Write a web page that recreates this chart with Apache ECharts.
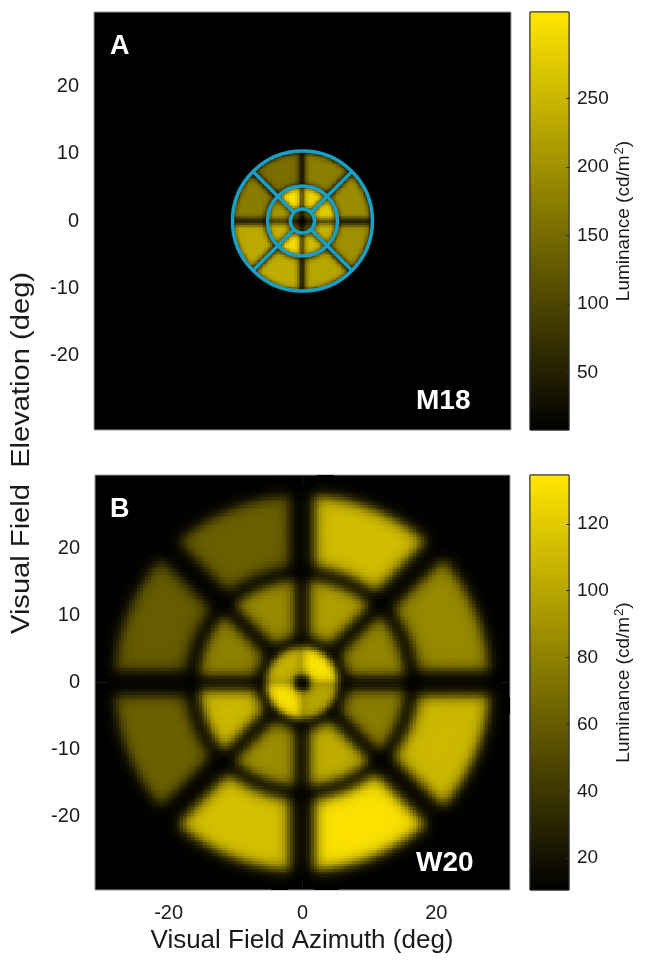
<!DOCTYPE html>
<html><head><meta charset="utf-8">
<script src="https://cdn.jsdelivr.net/npm/echarts@6/dist/echarts.min.js"></script>
<style>html,body{margin:0;padding:0;background:#fff}#c{width:651px;height:962px}</style>
</head><body><div id="c"></div>
<script>
// ---------------- data ----------------
const elevationTicks = [-20, -10, 0, 10, 20];
const azimuthTicks = [-20, 0, 20];
const colorbarTicksA = [50, 100, 150, 200, 250];
const colorbarTicksB = [20, 40, 60, 80, 100, 120];
const lumRangeA = [8, 313];
const lumRangeB = [10.5, 134.5];
// sector luminances (cd/m2); sectors run counter-clockwise starting at +azimuth
const lumA_center = [135, 128, 135, 128];
const lumA_middle = [283, 297, 313, 209, 247, 305, 262, 247];
const lumA_outer  = [195, 175, 154, 173, 233, 238, 228, 199];
const lumB_center = [133, 106, 132, 100];
const lumB_middle = [82, 96, 85, 80, 110, 87, 104, 78];
const lumB_outer  = [84, 112, 62, 60, 63, 114, 132, 110];
const panelLabels = ['A', 'B'];
const subjectLabels = ['M18', 'W20'];
const outlineRadiiA = [1.8, 5.2, 10.4];
const outlineSpokesA = [45, 135, 225, 315];

// ---------------- geometry / style ----------------
const FIELD = 31;
const geomA = {rings: [[0.55, 1.6], [2.05, 4.95], [5.55, 10.1]], gaps: [0.3, 0.3, 0.45], blur: [0.2, 0.22, 0.22], step: 0.25};
const geomB = {rings: [[1.2, 5.3], [7.0, 15.25], [17.55, 27.95]], gaps: [0.12, 1.2, 1.95], blur: [0.35, 0.5, 0.55], step: 0.4};
const colormap = ['#000000', '#FFE600'];
const blue = '#1AA0C8';
const FONT = 'Liberation Sans, Arial, Helvetica, sans-serif';

function sig(t) { return 1 / (1 + Math.exp(-t)); }
function luminance(x, y, rings, geom, bg) {
  const r = Math.hypot(x, y), th = Math.atan2(y, x);
  let total = 0;
  rings.forEach((vals, ri) => {
    const [r0, r1] = geom.rings[ri], g = geom.gaps[ri], k = geom.blur[ri];
    const mr = sig((r - r0) / k) * sig((r1 - r) / k);
    if (mr < 1e-4) return;
    const n = vals.length, w = 2 * Math.PI / n;
    for (let i = 0; i < n; i++) {
      const a0 = i * w, a1 = a0 + w, mid = a0 + w / 2;
      if (Math.cos(th - mid) <= 0) continue;
      const m = sig((r * Math.sin(th - a0) - g) / k) * sig((r * Math.sin(a1 - th) - g) / k);
      total += (vals[i] - bg) * mr * m;
    }
  });
  return bg + total;
}
function buildCells(rings, geom, bg) {
  const n = Math.round(2 * FIELD / geom.step), cells = [];
  for (let i = 0; i < n; i++) {
    const x = -FIELD + (i + 0.5) * geom.step;
    for (let j = 0; j < n; j++) {
      const y = -FIELD + (j + 0.5) * geom.step;
      const v = luminance(x, y, rings, geom, bg);
      if (v > bg + 0.3) cells.push([x, y, +v.toFixed(2)]);
    }
  }
  return cells;
}
const cellsA = buildCells([lumA_center, lumA_middle, lumA_outer], geomA, lumRangeA[0]);
const cellsB = buildCells([lumB_center, lumB_middle, lumB_outer], geomB, lumRangeB[0]);

const grids = [
  {left: 94, top: 12, width: 417, height: 418},
  {left: 530, top: 12, width: 39, height: 418},
  {left: 95, top: 475, width: 415, height: 415},
  {left: 530, top: 475, width: 39, height: 415}
];

const hidden = {show: false};
const tickLabelStyle = {color: '#1a1a1a', fontFamily: FONT};
function valAxis(grid, pos, ticks, fontSize, margin) {
  return {type: 'value', gridIndex: grid, position: pos, min: -FIELD, max: FIELD,
    axisLine: hidden, axisTick: hidden, splitLine: hidden,
    axisLabel: ticks ? Object.assign({customValues: ticks, fontSize, margin}, tickLabelStyle) : hidden};
}
function cbAxis(grid, range, ticks) {
  return {type: 'value', gridIndex: grid, min: range[0], max: range[1], position: 'right',
    axisLine: hidden, splitLine: hidden, axisTick: hidden,
    axisLabel: Object.assign({customValues: ticks, fontSize: 19, margin: 8}, tickLabelStyle),
    name: 'Luminance (cd/m{sup|2})', nameLocation: 'middle', nameRotate: 90, nameGap: 43,
    nameTextStyle: {fontSize: 19, color: '#1a1a1a', fontFamily: FONT,
      rich: {sup: {fontSize: 13, color: '#1a1a1a', fontFamily: FONT, padding: [0, 0, 10, 1]}}}};
}

const cellSeries = (axis, cells, step) => ({
  type: 'custom', xAxisIndex: axis, yAxisIndex: axis, data: cells, silent: true, progressive: 0,
  encode: {x: 0, y: 1}, clip: true,
  renderItem: (params, api) => {
    const x = api.value(0), y = api.value(1), h = step / 2;
    const p0 = api.coord([x - h, y + h]), p1 = api.coord([x + h, y - h]);
    const x0 = Math.floor(p0[0]), y0 = Math.floor(p0[1]);
    return {type: 'rect', shape: {x: x0, y: y0, width: Math.ceil(p1[0]) - x0, height: Math.ceil(p1[1]) - y0},
      style: {fill: api.visual('color')}};
  }
});

const colorbarSeries = (axis, range, ticks) => ({
  type: 'custom', xAxisIndex: axis, yAxisIndex: axis, silent: true, clip: false,
  data: [[0, range[0], range[1]]],
  renderItem: (params, api) => {
    const p0 = api.coord([0, api.value(1)]), p1 = api.coord([1, api.value(2)]);
    const children = [{type: 'rect', shape: {x: p0[0], y: p1[1], width: p1[0] - p0[0], height: p0[1] - p1[1]},
      style: {fill: new echarts.graphic.LinearGradient(0, 1, 0, 0, [{offset: 0, color: colormap[0]}, {offset: 1, color: colormap[1]}]),
        stroke: '#333', lineWidth: 1}}];
    ticks.forEach(t => {
      const py = Math.round(api.coord([1, t])[1]) + 0.5;
      children.push({type: 'line', shape: {x1: p1[0] - 3, y1: py, x2: p1[0] + 1, y2: py}, style: {stroke: '#333', lineWidth: 1}});
    });
    return {type: 'group', children};
  }
});

const crossSeries = (axis) => ({
  type: 'custom', xAxisIndex: axis, yAxisIndex: axis, silent: true, clip: true, z: 1,
  data: [[0, 0]],
  renderItem: (params, api) => {
    const c = api.coord([0, 0]), a = api.coord([-FIELD, FIELD]), b = api.coord([FIELD, -FIELD]);
    return {type: 'group', children: [
      {type: 'line', shape: {x1: a[0] + 1, y1: c[1], x2: b[0] - 1, y2: c[1]}, style: {stroke: '#17170c', lineWidth: 1}},
      {type: 'line', shape: {x1: c[0], y1: a[1] + 1, x2: c[0], y2: b[1] - 1}, style: {stroke: '#17170c', lineWidth: 1}}
    ]};
  }
});

const option = {
  animation: false,
  backgroundColor: '#fff',
  grid: grids.map((g, i) => Object.assign({show: true, backgroundColor: '#000', borderColor: i % 2 ? '#333' : '#9a9a9a', borderWidth: 1}, g)),
  xAxis: [
    valAxis(0, 'bottom', null),
    {type: 'value', gridIndex: 1, min: 0, max: 1, show: false},
    valAxis(2, 'bottom', azimuthTicks, 20, 13),
    {type: 'value', gridIndex: 3, min: 0, max: 1, show: false}
  ],
  yAxis: [
    valAxis(0, 'left', elevationTicks, 20, 15),
    cbAxis(1, lumRangeA, colorbarTicksA),
    valAxis(2, 'left', elevationTicks, 20, 15),
    cbAxis(3, lumRangeB, colorbarTicksB)
  ],
  visualMap: [
    {type: 'continuous', show: false, seriesIndex: 0, dimension: 2, min: lumRangeA[0], max: lumRangeA[1], inRange: {color: colormap}},
    {type: 'continuous', show: false, seriesIndex: 1, dimension: 2, min: lumRangeB[0], max: lumRangeB[1], inRange: {color: colormap}}
  ],
  series: [
    cellSeries(0, cellsA, geomA.step),
    cellSeries(2, cellsB, geomB.step),
    colorbarSeries(1, lumRangeA, colorbarTicksA),
    colorbarSeries(3, lumRangeB, colorbarTicksB),
    crossSeries(2),
    {type: 'custom', xAxisIndex: 0, yAxisIndex: 0, silent: true, clip: false, z: 5,
      data: outlineRadiiA.map(r => [r]),
      renderItem: (params, api) => {
        const c = api.coord([0, 0]), rr = api.size([api.value(0), 0])[0];
        return {type: 'circle', shape: {cx: c[0], cy: c[1], r: rr}, style: {fill: 'none', stroke: blue, lineWidth: 3.5}};
      }},
    {type: 'custom', xAxisIndex: 0, yAxisIndex: 0, silent: true, clip: false, z: 5,
      data: outlineSpokesA.map(a => [a]),
      renderItem: (params, api) => {
        const a = api.value(0) * Math.PI / 180, r0 = outlineRadiiA[0], r1 = outlineRadiiA[outlineRadiiA.length - 1];
        const p0 = api.coord([r0 * Math.cos(a), r0 * Math.sin(a)]), p1 = api.coord([r1 * Math.cos(a), r1 * Math.sin(a)]);
        return {type: 'line', shape: {x1: p0[0], y1: p0[1], x2: p1[0], y2: p1[1]}, style: {stroke: blue, lineWidth: 3.5}};
      }}
  ],
  graphic: [
    {type: 'text', left: 110, top: 33, z: 100, style: {text: panelLabels[0], fill: '#fff', font: 'bold 27px ' + FONT}},
    {type: 'text', left: 110, top: 496, z: 100, style: {text: panelLabels[1], fill: '#fff', font: 'bold 27px ' + FONT}},
    {type: 'text', left: 416, top: 387, z: 100, style: {text: subjectLabels[0], fill: '#fff', font: 'bold 28px ' + FONT}},
    {type: 'text', left: 416, top: 849, z: 100, style: {text: subjectLabels[1], fill: '#fff', font: 'bold 28px ' + FONT}},
    {type: 'text', x: 22, y: 453, rotation: Math.PI / 2, scaleX: 1.12,
      style: {text: 'Visual Field  Elevation (deg)', fill: '#1a1a1a', font: '26px ' + FONT, textAlign: 'center', textVerticalAlign: 'middle'}},
    {type: 'text', x: 302, y: 941,
      style: {text: 'Visual Field Azimuth (deg)', fill: '#1a1a1a', font: '26px ' + FONT, textAlign: 'center', textVerticalAlign: 'middle'}}
  ]
};
const chart = echarts.init(document.getElementById('c'), null, {renderer: 'canvas'});
chart.setOption(option);
</script></body></html>
